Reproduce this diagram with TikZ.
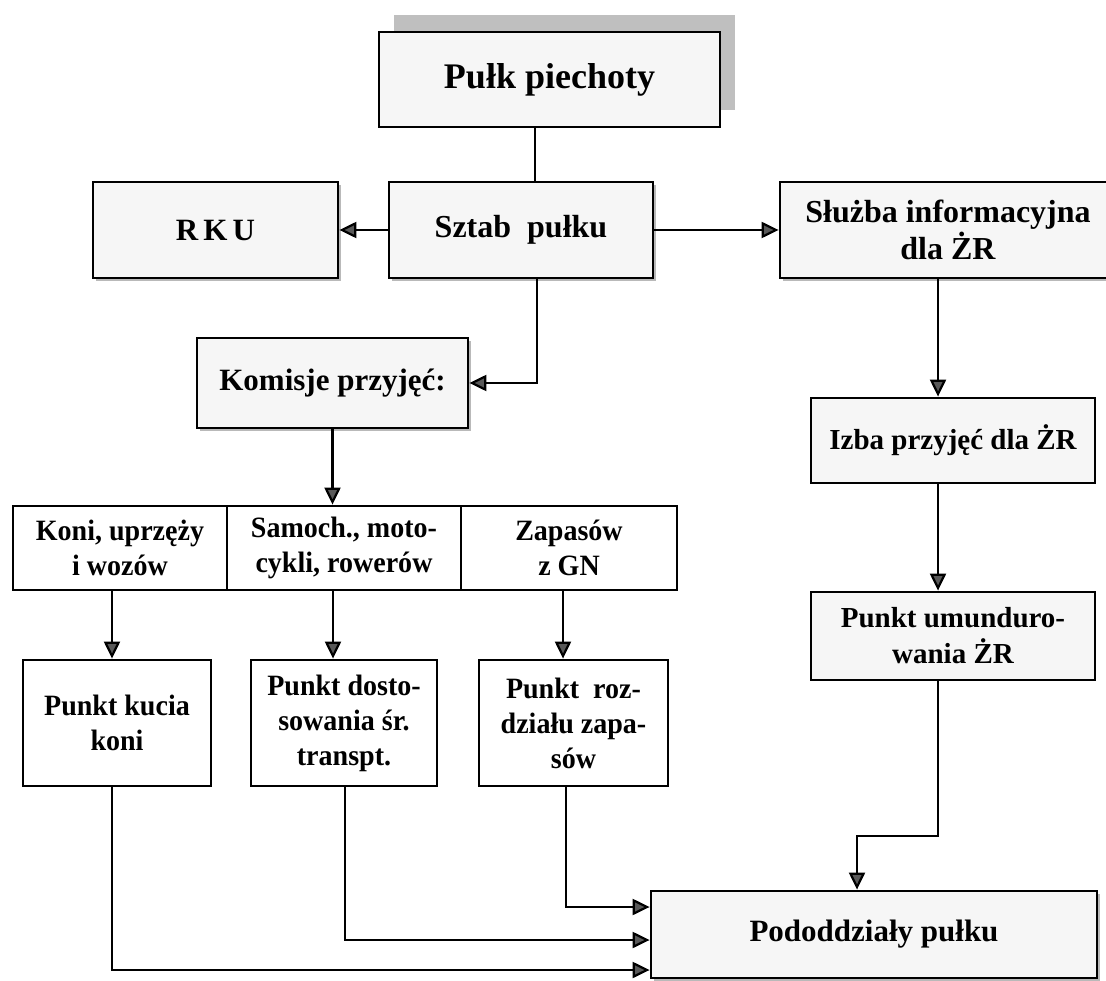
\documentclass[tikz,border=0pt]{standalone}
\usepackage{fontspec}
\setmainfont{Liberation Serif}
\usetikzlibrary{arrows.meta,shadows}
\begin{document}
\begin{tikzpicture}[x=1pt,y=-1pt,
  box/.style={draw=black, line width=2.8pt, fill=gray!7, align=center,
    font=\bfseries\fontsize{31}{37}\selectfont, inner sep=0pt},
  sbox/.style={box, drop shadow={shadow xshift=3pt, shadow yshift=-3pt, fill=gray!55, opacity=1}},
  mbox/.style={box, font=\bfseries\fontsize{29}{36}\selectfont},
  wbox/.style={box, fill=white, font=\bfseries\fontsize{29.5}{35}\selectfont\addfontfeature{FakeStretch=0.95}},
  conn/.style={line width=2.2pt},
  arr/.style={conn, -{Triangle[length=17pt,width=16pt,fill=black!65]}}
]
\useasboundingbox (0,0) rectangle (1106,981);

% top box with grey shadow up-right
\node[box, minimum width=341pt, minimum height=95pt, font=\bfseries\fontsize{36}{40}\selectfont,
  drop shadow={shadow xshift=15pt, shadow yshift=17pt, fill=gray!50, opacity=1}]
  (pulk) at (549.5,79.5) {Pułk piechoty};

\node[sbox, minimum width=245pt, minimum height=96pt] (rku) at (215.5,230) {R\,K\,U};
\node[sbox, minimum width=264pt, minimum height=96pt, font=\bfseries\fontsize{32}{37}\selectfont] (sztab) at (521,230) {Sztab\ \ pułku};
\node[sbox, minimum width=336pt, minimum height=96pt, font=\bfseries\fontsize{32}{37}\selectfont] (sluzba) at (948,230) {Służba informacyjna\\dla ŻR};
\node[sbox, minimum width=271pt, minimum height=90pt] (komisje) at (332.5,383) {Komisje przyjęć:};

\node[wbox, minimum width=214pt, minimum height=84pt] (c1) at (120,548) {Koni, uprzęży\\i wozów};
\node[wbox, minimum width=234pt, minimum height=84pt] (c2) at (344,548) {Samoch., moto-\\cykli, rowerów};
\node[wbox, minimum width=216pt, minimum height=84pt] (c3) at (569,548) {Zapasów\\z GN};

\node[wbox, minimum width=188pt, minimum height=126pt] (kucia) at (117,723) {Punkt kucia\\koni};
\node[wbox, minimum width=186pt, minimum height=126pt] (dost) at (344,723) {Punkt dosto-\\sowania śr.\\transpt.};
\node[wbox, minimum width=189pt, minimum height=126pt] (rozdz) at (573.5,723) {Punkt\ \ roz-\\działu zapa-\\sów};

\node[mbox, minimum width=284pt, minimum height=85pt] (izba) at (953,440.5) {Izba przyjęć dla ŻR};
\node[mbox, minimum width=284pt, minimum height=88pt] (umund) at (953,636) {Punkt umunduro-\\wania ŻR};

\node[sbox, minimum width=446pt, minimum height=87pt] (podd) at (874,934.5) {Pododdziały pułku};

% helper coordinates
\coordinate (px) at (535,0);
\coordinate (sx) at (537,0);
\coordinate (rx) at (938,0);
\coordinate (k1) at (112,0);
\coordinate (k2) at (333,0);
\coordinate (k3) at (563,0);
\coordinate (o1) at (112,0);
\coordinate (o2) at (345,0);
\coordinate (o3) at (566,0);
\coordinate (bend) at (857,836);
\coordinate (ya) at (0,907);
\coordinate (yb) at (0,940);
\coordinate (yc) at (0,970);

% connectors
\draw[conn] (pulk.south -| px) -- (sztab.north -| px);
\draw[arr] (sztab.west) -- (rku.east);
\draw[arr] (sztab.east) -- (sluzba.west);
\draw[arr] (sztab.south -| sx) |- (komisje.east);
\draw[arr] (komisje.south) -- (komisje.south |- c2.north);

\draw[arr] (c1.south -| k1) -- (kucia.north -| k1);
\draw[arr] (c2.south -| k2) -- (dost.north -| k2);
\draw[arr] (c3.south -| k3) -- (rozdz.north -| k3);

\draw[arr] (sluzba.south -| rx) -- (izba.north -| rx);
\draw[arr] (izba.south -| rx) -- (umund.north -| rx);
\draw[arr] (umund.south -| rx) |- (bend) -- (bend |- podd.north);

\draw[arr] (rozdz.south -| o3) |- (podd.west |- ya);
\draw[arr] (dost.south -| o2) |- (podd.west |- yb);
\draw[arr] (kucia.south -| o1) |- (podd.west |- yc);
\end{tikzpicture}
\end{document}
